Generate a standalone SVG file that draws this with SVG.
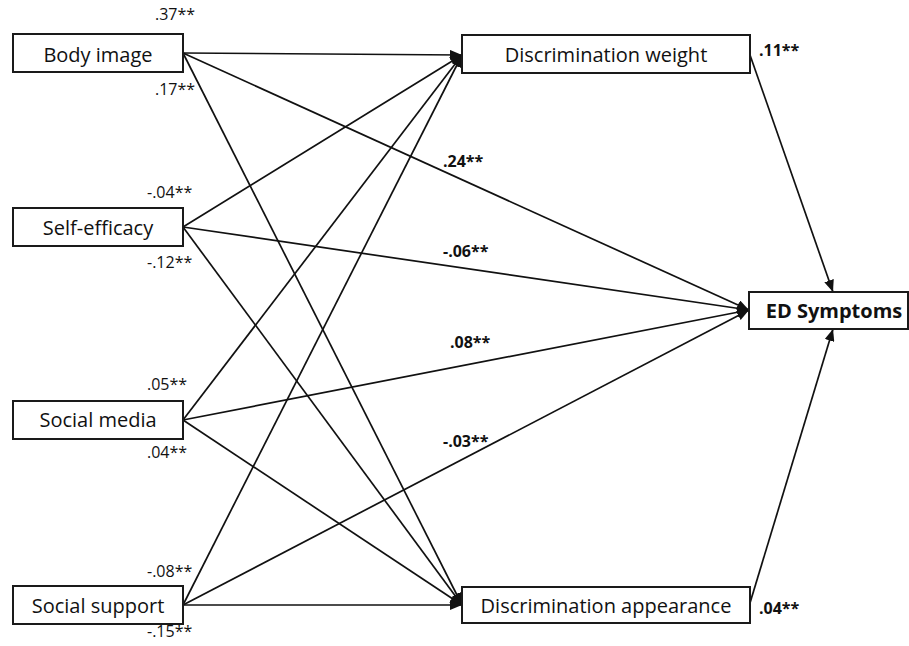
<svg xmlns="http://www.w3.org/2000/svg" width="909" height="646" viewBox="0 0 909 646">
<style>
.box{fill:#fff;stroke:#1a1a1a;stroke-width:2}
.lbl{font-family:"Open Sans","Liberation Sans",sans-serif;font-size:20px;fill:#111;text-anchor:middle}
.coef{font-family:"Open Sans","Liberation Sans",sans-serif;font-size:16px;fill:#111}
.bcoef{font-family:"Open Sans","Liberation Sans",sans-serif;font-size:16px;font-weight:bold;fill:#111}
.edge{stroke:#111;stroke-width:1.7;fill:none;marker-end:url(#ah)}
</style>
<defs>
<marker id="ah" markerUnits="userSpaceOnUse" markerWidth="12" markerHeight="10" viewBox="0 0 12 10" refX="12" refY="5" orient="auto">
<path d="M0,0 L12,5 L0,10 z" fill="#111"/>
</marker>
</defs>
<rect width="909" height="646" fill="#fff"/>
<g id="connectors">
<line class="edge" x1="183" y1="53" x2="462" y2="55"/>
<line class="edge" x1="183" y1="53" x2="749" y2="310"/>
<line class="edge" x1="183" y1="53" x2="462" y2="605"/>
<line class="edge" x1="183" y1="227" x2="462" y2="55"/>
<line class="edge" x1="183" y1="227" x2="749" y2="310"/>
<line class="edge" x1="183" y1="227" x2="462" y2="605"/>
<line class="edge" x1="183" y1="420" x2="462" y2="55"/>
<line class="edge" x1="183" y1="420" x2="749" y2="310"/>
<line class="edge" x1="183" y1="420" x2="462" y2="605"/>
<line class="edge" x1="183" y1="605" x2="462" y2="55"/>
<line class="edge" x1="183" y1="605" x2="749" y2="310"/>
<line class="edge" x1="183" y1="605" x2="462" y2="605"/>
<line class="edge" x1="750" y1="55" x2="833" y2="292"/>
<line class="edge" x1="750" y1="603" x2="833" y2="329"/>
</g>
<g id="body-image">
<rect class="box" x="13" y="34" width="170" height="38"/>
<text class="lbl" x="98" y="62">Body image</text>
</g>
<g id="self-efficacy">
<rect class="box" x="13" y="208" width="170" height="38"/>
<text class="lbl" x="98" y="235">Self-efficacy</text>
</g>
<g id="social-media">
<rect class="box" x="13" y="401" width="170" height="38"/>
<text class="lbl" x="98" y="427">Social media</text>
</g>
<g id="social-support">
<rect class="box" x="13" y="586" width="170" height="38"/>
<text class="lbl" x="98" y="613">Social support</text>
</g>
<g id="discrimination-weight">
<rect class="box" x="462" y="35" width="288" height="38"/>
<text class="lbl" x="606" y="62">Discrimination weight</text>
</g>
<g id="discrimination-appearance">
<rect class="box" x="462" y="587" width="288" height="36"/>
<text class="lbl" x="606" y="613">Discrimination appearance</text>
</g>
<g id="ed-symptoms">
<rect class="box" x="749" y="292" width="159" height="37"/>
<text class="lbl" x="834" y="318" font-weight="bold">ED Symptoms</text>
</g>
<g id="coefficients">
<text class="coef" x="155" y="20">.37**</text>
<text class="coef" x="155" y="95">.17**</text>
<text class="coef" x="147" y="198">-.04**</text>
<text class="coef" x="147" y="268">-.12**</text>
<text class="coef" x="147" y="390">.05**</text>
<text class="coef" x="147" y="458">.04**</text>
<text class="coef" x="147" y="577">-.08**</text>
<text class="coef" x="147" y="637">-.15**</text>
<text class="bcoef" x="443" y="167">.24**</text>
<text class="bcoef" x="443" y="257">-.06**</text>
<text class="bcoef" x="450" y="348">.08**</text>
<text class="bcoef" x="443" y="447">-.03**</text>
<text class="bcoef" x="759" y="56">.11**</text>
<text class="bcoef" x="759" y="614">.04**</text>
</g>
</svg>
